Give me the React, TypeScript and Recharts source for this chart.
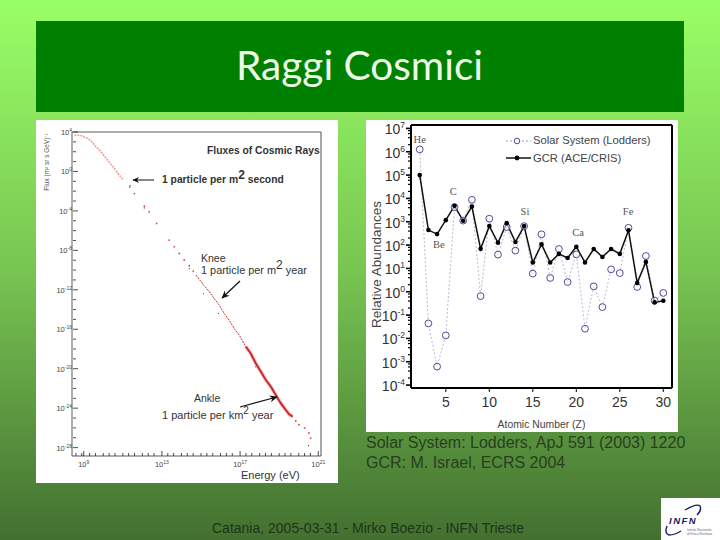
import React from 'react';
import {
  LineChart, Line, XAxis, YAxis, ReferenceDot, Legend, ComposedChart, Scatter,
} from 'recharts';

// ---------- Right panel: relative abundances ----------
const atomicNumbers = [2,3,4,5,6,7,8,9,10,11,12,13,14,15,16,17,18,19,20,21,22,23,24,25,26,27,28,29,30];
const solarValues = [1.26e6,0.044,6.2e-4,0.0135,4.2e3,1.12e3,8.7e3,0.65,1.35e3,39,590,58,650,6,290,3.9,68,2.6,40,0.026,1.7,0.22,9.1,6.3,550,1.6,34,0.42,0.89];
const gcrValues = [1e5,440,295,1.17e3,4.8e3,1.1e3,4.5e3,69,650,126,870,135,650,18,107,18,42,28,85,18,68,31,68,42,430,2.4,19,0.35,0.41];
const abundanceTicks = [1e-4,1e-3,1e-2,1e-1,1,10,100,1e3,1e4,1e5,1e6,1e7];
const abundanceMinorFactors = [2,4,6,8];
const zMajorTicks = [5,10,15,20,25,30];
const elementNames = ['He','Be','C','Si','Ca','Fe'];
const elementZ = [2,4.2,5.85,14.1,20.2,25.95];
const elementHeights = [3.4e6,110,1.95e4,2.75e3,360,2.75e3];

// ---------- Left panel: fluxes of cosmic rays (log10 values) ----------
const energyLog = [11.37,11.59,12.1,12.35,12.73,13.37,13.63,13.89,14.14,14.4,14.6,19.67,19.85,20.01,20.3,20.52,20.61];
const fluxLog = [-1.46,-2.24,-3.52,-4.09,-5.27,-6.96,-7.64,-8.31,-8.98,-9.56,-10.1,-24.84,-25.3,-25.68,-26.0,-26.52,-27.03];
const lowEnergyLog = [8.52,8.66,8.78,8.92,9.12,9.25,9.37,9.5,9.63,9.76,9.89,10.06,10.23,10.4,10.57,10.7,10.82,11.0];
const lowFluxLog = [3.66,3.68,3.66,3.6,3.43,3.3,3.09,2.8,2.48,2.25,1.98,1.55,1.13,0.7,0.29,-0.05,-0.38,-0.8];
const midEnergyLog = [14.74,14.91,15.16,15.42,15.67,15.93,16.18,16.44,16.69,16.95,17.29];
const midFluxLog = [-10.5,-10.94,-11.58,-12.19,-12.86,-13.54,-14.38,-15.06,-15.9,-16.57,-17.75];
const denseEnergyLog = [17.29,17.54,17.8,18.06,18.31,18.57,18.82,19.08,19.33,19.5,19.67];
const denseFluxLog = [-17.75,-18.43,-19.44,-20.28,-21.13,-21.8,-22.64,-23.49,-24.16,-24.6,-24.84];
const blackEnergyLog = [11.35,12.1,14.4,15.13,15.9,17.8,20.5];
const blackFluxLog = [-1.6,-3.7,-9.85,-12.4,-14.4,-19.8,-27.8];
const fluxMajorTicks = [4,0,-4,-8,-12,-16,-20,-24,-28];
const fluxMinorTicks = [3,2,1,-1,-2,-3,-5,-6,-7,-9,-10,-11,-13,-14,-15,-17,-18,-19,-21,-22,-23,-25,-26,-27];
const energyMajorTicks = [9,13,17,21];
const energyMinorTicks = [8.6,8.9,9.3,9.6,10,10.3,10.6,11,11.3,11.6,12,12.3,12.6,13.3,13.6,14,14.3,14.6,15,15.3,15.6,16,16.3,16.6,17.3,17.6,18,18.3,18.6,19,19.3,19.6,20,20.3,20.6];

const toPoints = (xs: number[], ys: number[]) => xs.map((e, i) => ({ e, f: ys[i] }));
const abundanceData = atomicNumbers.map((z, i) => ({ z, solar: solarValues[i], gcr: gcrValues[i] }));
const fluxData = toPoints(energyLog, fluxLog);
const lowData = toPoints(lowEnergyLog, lowFluxLog);
const midData = toPoints(midEnergyLog, midFluxLog);
const denseData = toPoints(denseEnergyLog, denseFluxLog);
const blackData = toPoints(blackEnergyLog, blackFluxLog);
const allAbundanceYTicks = abundanceTicks.flatMap((t, i) =>
  i === abundanceTicks.length - 1 ? [t] : [t, ...abundanceMinorFactors.map((m) => t * m)]);

const SANS = '"Liberation Sans", Arial, sans-serif';
const SERIF = '"Liberation Serif", serif';

function abundanceYTick(props: any) {
  const { x, y, payload } = props;
  const exp = Math.log10(payload.value);
  const major = Math.abs(exp - Math.round(exp)) < 1e-6;
  return (
    <g>
      <line x1={major ? x : x + 2} x2={x + 5} y1={y} y2={y} stroke="#000" strokeWidth={major ? 1.6 : 1.2} />
      {major && (
        <text x={x - 1} y={y + 6} textAnchor="end" fontFamily={SANS} fontSize={14} fill="#333">
          10<tspan dy={-6} fontSize={8.5}>{Math.round(exp)}</tspan>
        </text>
      )}
    </g>
  );
}

function fluxYTick(props: any) {
  const { x, y, payload } = props;
  const major = fluxMajorTicks.includes(payload.value);
  return (
    <g>
      <line x1={x + 1} x2={x + (major ? 6 : 4)} y1={y} y2={y} stroke="#222" strokeWidth={0.8} />
      {major && (
        <text x={x} y={y + 3} textAnchor="end" fontFamily={SANS} fontSize={7.5} fill="#444">
          10<tspan dy={-3} fontSize={5}>{payload.value}</tspan>
        </text>
      )}
    </g>
  );
}

function energyXTick(props: any) {
  const { x, y, payload } = props;
  const major = energyMajorTicks.includes(payload.value);
  return (
    <g>
      <line x1={x} x2={x} y1={y} y2={y - (major ? 5 : 3)} stroke="#222" strokeWidth={0.8} />
      {major && (
        <text x={x} y={y + 11} textAnchor="middle" fontFamily={SANS} fontSize={7.5} fill="#444">
          10<tspan dy={-3} fontSize={5}>{payload.value}</tspan>
        </text>
      )}
    </g>
  );
}

function AbundanceLegend() {
  return (
    <div style={{ fontFamily: SANS, fontSize: 11.2, color: '#444', lineHeight: '17.5px', whiteSpace: 'nowrap' }}>
      <div style={{ display: 'flex', alignItems: 'center' }}>
        <svg width={29} height={14} style={{ marginRight: 0 }}>
          <line x1={2} x2={27} y1={7} y2={7} stroke="#9a9ac8" strokeWidth={1} strokeDasharray="2 2" />
          <circle cx={13} cy={7} r={2.8} fill="#fff" stroke="#38388c" strokeWidth={0.9} />
        </svg>
        Solar System (Lodders)
      </div>
      <div style={{ display: 'flex', alignItems: 'center' }}>
        <svg width={29} height={14} style={{ marginRight: 0 }}>
          <line x1={2} x2={27} y1={7} y2={7} stroke="#222" strokeWidth={1.6} />
          <circle cx={13} cy={7} r={2.4} fill="#000" />
        </svg>
        GCR (ACE/CRIS)
      </div>
    </div>
  );
}

function AbundanceChart() {
  return (
    <LineChart width={312} height={312} data={abundanceData} margin={{ top: 4, right: 5, bottom: 0, left: 0 }} style={{ position: 'absolute', left: 366, top: 120 }}>
      <XAxis dataKey="z" type="number" domain={[1, 31]} ticks={zMajorTicks} allowDataOverflow height={44}
        axisLine={{ stroke: '#000', strokeWidth: 2 }} tickLine={{ stroke: '#000' }} tickSize={4}
        tick={{ fontFamily: SANS, fontSize: 14, fill: '#333' }} tickMargin={5}
        label={{ value: 'Atomic Number (Z)', position: 'insideBottom', offset: 4, style: { fontFamily: SANS, fontSize: 10.4, fill: '#444' } }} />
      <XAxis xAxisId="top" dataKey="z" type="number" domain={[1, 31]} ticks={zMajorTicks} orientation="top" height={1}
        axisLine={{ stroke: '#000', strokeWidth: 2 }} tickLine={{ stroke: '#000' }} tickSize={-4} tick={false} />
      <YAxis yAxisId="left" scale="log" domain={[7.5e-5, 1.4e7]} ticks={allAbundanceYTicks} allowDataOverflow width={45} interval={0}
        axisLine={{ stroke: '#000', strokeWidth: 2 }} tickLine={false} tick={abundanceYTick} tickMargin={0} tickSize={5}
        label={{ value: 'Relative Abundances', angle: -90, position: 'insideLeft', offset: 5, dx: 5, dy: 8, style: { fontFamily: SANS, fontSize: 13.5, fill: '#444', textAnchor: 'middle' } }} />
      <YAxis yAxisId="right" orientation="right" scale="log" domain={[7.5e-5, 1.4e7]} ticks={abundanceTicks} allowDataOverflow width={1} interval={0}
        axisLine={{ stroke: '#000', strokeWidth: 2 }} tickLine={false} tick={false} />
      <Line yAxisId="left" dataKey="solar" stroke="#b0b0d0" strokeWidth={0.9} strokeDasharray="2 2" isAnimationActive={false}
        dot={{ r: 3.4, fill: '#fff', fillOpacity: 0.55, stroke: '#38388c', strokeWidth: 0.9, strokeDasharray: 'none' }} />
      <Line yAxisId="left" dataKey="gcr" stroke="#111" strokeWidth={1.5} isAnimationActive={false}
        dot={{ r: 2.3, fill: '#000', stroke: '#000', strokeWidth: 0 }} />
      {elementNames.map((name, i) => (
        <ReferenceDot key={name} yAxisId="left" x={elementZ[i]} y={elementHeights[i]} r={0} stroke="none" fill="none"
          label={{ value: name, position: 'center', style: { fontFamily: SERIF, fontSize: 10.5, fill: '#555' } }} />
      ))}
      <Legend layout="vertical" align="center" verticalAlign="middle"
        wrapperStyle={{ position: 'absolute', left: 138, top: 12, width: 'auto' }} content={AbundanceLegend} />
    </LineChart>
  );
}

function FluxChart() {
  return (
    <ComposedChart width={302} height={363} margin={{ top: 11, right: 16, bottom: 0, left: 0 }} style={{ position: 'absolute', left: 36, top: 120 }}>
      <XAxis dataKey="e" type="number" domain={[8.4, 21.14]} ticks={[...energyMajorTicks, ...energyMinorTicks].sort((a, b) => a - b)} interval={0} allowDataOverflow height={27}
        axisLine={{ stroke: '#333', strokeWidth: 0.8 }} tickLine={false} tick={energyXTick} tickMargin={0} tickSize={0} />
      <XAxis xAxisId="top" dataKey="e" type="number" domain={[8.4, 21.14]} ticks={energyMajorTicks} orientation="top" height={1}
        axisLine={{ stroke: '#333', strokeWidth: 0.8 }} tickLine={false} tick={false} />
      <YAxis yAxisId="left" dataKey="f" type="number" domain={[-28.85, 4]} ticks={[...fluxMajorTicks, ...fluxMinorTicks].sort((a, b) => b - a)} interval={0} allowDataOverflow width={36}
        axisLine={{ stroke: '#333', strokeWidth: 0.8 }} tickLine={false} tick={fluxYTick} tickMargin={0} tickSize={0}
        label={{ value: 'Flux (m² sr s GeV)⁻¹', angle: -90, position: 'insideTopLeft', dx: 3, dy: 25, style: { fontFamily: SANS, fontSize: 6.5, fill: '#555', textAnchor: 'middle' } }} />
      <YAxis yAxisId="right" orientation="right" dataKey="f" type="number" domain={[-28.85, 4]} ticks={fluxMajorTicks} allowDataOverflow width={1}
        axisLine={{ stroke: '#223', strokeWidth: 0.8 }} tickLine={false} tick={false} />
      <Line yAxisId="left" data={lowData} dataKey="f" stroke="#f0a090" strokeWidth={1.6} strokeDasharray="2 1" dot={false} isAnimationActive={false} />
      <Line yAxisId="left" data={midData} dataKey="f" stroke="#d03030" strokeWidth={1} strokeDasharray="2 1" dot={false} isAnimationActive={false} />
      <Line yAxisId="left" data={denseData} dataKey="f" stroke="#f0a0a0" strokeWidth={4} strokeOpacity={0.6} dot={false} isAnimationActive={false} />
      <Line yAxisId="left" data={denseData} dataKey="f" stroke="#c4232c" strokeWidth={1.8} dot={false} isAnimationActive={false} />
      <Scatter yAxisId="left" data={fluxData} fill="#d8483f" isAnimationActive={false}
        shape={(p: any) => <circle cx={p.cx} cy={p.cy} r={0.9} fill="#d8483f" />} />
      <Scatter yAxisId="left" data={blackData} fill="#333" isAnimationActive={false}
        shape={(p: any) => <circle cx={p.cx} cy={p.cy} r={0.6} fill="#333" />} />
    </ComposedChart>
  );
}

function Note({ x, y, size, children, weight }: any) {
  return (
    <div style={{ position: 'absolute', left: x, top: y, fontFamily: SANS, fontSize: size, fontWeight: weight ?? 400, color: '#333', whiteSpace: 'nowrap', lineHeight: 1 }}>
      {children}
    </div>
  );
}

export default function App() {
  return (
    <div style={{
      position: 'absolute', left: 0, top: 0, width: 720, height: 540, overflow: 'hidden',
      background: 'linear-gradient(180deg, #99ff66 0%, #78c552 50%, #437030 100%)',
    }}>
      <div style={{ position: 'absolute', left: 36, top: 21, width: 648, height: 91, background: '#008000' }} />
      <div style={{ position: 'absolute', left: 236, top: 45, fontFamily: 'Lato, sans-serif', fontSize: 40.6, color: '#eefce8', lineHeight: 1, whiteSpace: 'nowrap' }}>
        Raggi Cosmici
      </div>

      <div style={{ position: 'absolute', left: 36, top: 120, width: 302, height: 363, background: '#fff' }} />
      <div style={{ position: 'absolute', left: 366, top: 120, width: 312, height: 312, background: '#fff' }} />

      <FluxChart />
      <AbundanceChart />

      <Note x={207} y={146} size={10.3} weight={700}>Fluxes of Cosmic Rays</Note>
      <Note x={162} y={175} size={10.3} weight={700}>1 particle per m<sup style={{ fontSize: 12, lineHeight: 0 }}>2</sup> second</Note>
      <Note x={201} y={253} size={10.5}>Knee</Note>
      <Note x={201} y={265} size={10.9}>1 particle per m<sup style={{ fontSize: 12, lineHeight: 0 }}>2</sup> year</Note>
      <Note x={194} y={393} size={10.5}>Ankle</Note>
      <Note x={162} y={410} size={11}>1 particle per km<sup style={{ fontSize: 10, lineHeight: 0 }}>2</sup> year</Note>
      <Note x={241} y={470} size={11}>Energy (eV)</Note>

      <svg width={720} height={540} style={{ position: 'absolute', left: 0, top: 0, pointerEvents: 'none' }}>
        <defs>
          <marker id="ah" markerWidth={7} markerHeight={7} refX={6} refY={3.5} orient="auto">
            <path d="M0,0.5 L6.5,3.5 L0,6.5 L2,3.5 Z" fill="#111" />
          </marker>
        </defs>
        <line x1={154} y1={180} x2={133} y2={180} stroke="#111" strokeWidth={1} markerEnd="url(#ah)" />
        <line x1={240} y1={281} x2={222} y2={298} stroke="#111" strokeWidth={1.2} markerEnd="url(#ah)" />
        <path d="M240,407 L277,397" stroke="#111" strokeWidth={1.2} fill="none" markerEnd="url(#ah)" />
      </svg>

      <div style={{ position: 'absolute', left: 366, top: 433, fontFamily: SANS, fontSize: 16, lineHeight: '20px', color: '#28401e', whiteSpace: 'nowrap' }}>
        Solar System: Lodders, ApJ 591 (2003) 1220<br />GCR: M. Israel, ECRS 2004
      </div>
      <div style={{ position: 'absolute', left: 212, top: 520, fontFamily: SANS, fontSize: 14, lineHeight: '16px', color: '#1f3318', whiteSpace: 'nowrap' }}>
        Catania, 2005-03-31 - Mirko Boezio - INFN Trieste
      </div>

      <div style={{ position: 'absolute', left: 661, top: 498, width: 59, height: 42, background: '#fff' }}>
        <svg width={59} height={42}>
          <path d="M24,12 Q36,5 39,8 Q41,12 36,17" stroke="#15206a" strokeWidth={1.4} fill="none" />
          <path d="M6,28 Q3,35 8,37 Q14,37 20,33" stroke="#15206a" strokeWidth={1.4} fill="none" />
          <text x={8} y={26} fontFamily={SANS} fontSize={9.5} fontWeight={700} fontStyle="italic" fill="#15206a" letterSpacing={1.5}>INFN</text>
          <text x={26} y={33} fontFamily={SANS} fontSize={3.2} fill="#667">Istituto Nazionale</text>
          <text x={26} y={37} fontFamily={SANS} fontSize={3.2} fill="#667">di Fisica Nucleare</text>
        </svg>
      </div>
    </div>
  );
}
